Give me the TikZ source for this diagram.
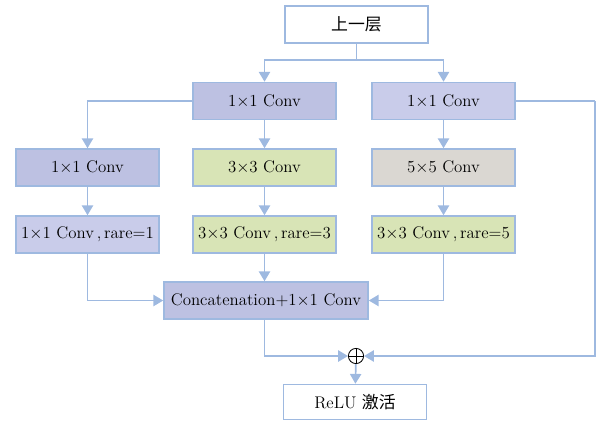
\documentclass[tikz,border=0pt]{standalone}
\usepackage{fontspec}
\newfontfamily\cjk{Noto Sans CJK SC}
\usepackage{tikz}
\usetikzlibrary{arrows.meta,positioning,calc}
\definecolor{lnblue}{RGB}{158,185,224}
\definecolor{boxlav}{RGB}{189,193,226}
\definecolor{boxlav2}{RGB}{201,204,234}
\definecolor{boxgreen}{RGB}{216,228,182}
\definecolor{boxgray}{RGB}{218,215,210}
\tikzstyle{arrow} = [line width=1.2pt,-{Triangle[width=8pt,length=7pt]},color=lnblue]
\tikzstyle{link} = [line width=1.2pt,color=lnblue]
\tikzstyle{layer} = [draw=lnblue, line width=1.1pt, minimum width=3.575cm, minimum height=0.925cm, inner sep=0pt, font=\fontsize{12}{14}\selectfont]

\begin{document}
\begin{tikzpicture}
\useasboundingbox (0,0) rectangle (15.05,-10.5);

\node[layer, fill=white] (prev) at (8.9125,-0.6125) {{\cjk 上一层}};
\node[layer, fill=boxlav] (conva) at (6.6125,-2.525) {1$\times$1 Conv};
\node[layer, fill=boxlav2] (convb) at (11.0875,-2.525) {1$\times$1 Conv};

\node[layer, fill=boxlav] (left1) at (2.1875,-4.1875) {1$\times$1 Conv};
\node[layer, fill=boxgreen] (mid1) at (6.6125,-4.1875) {3$\times$3 Conv};
\node[layer, fill=boxgray] (right1) at (11.0875,-4.1875) {5$\times$5 Conv};

\node[layer, fill=boxlav2] (left2) at (2.1875,-5.8625) {1$\times$1 Conv\,,\,rare=1};
\node[layer, fill=boxgreen] (mid2) at (6.6125,-5.8625) {3$\times$3 Conv\,,\,rare=3};
\node[layer, fill=boxgreen] (right2) at (11.0875,-5.8625) {3$\times$3 Conv\,,\,rare=5};

\node[layer, fill=boxlav, minimum width=5.1cm] (concat) at (6.65,-7.5125) {Concatenation+1$\times$1 Conv};
\node[circle, draw, line width=0.6pt, minimum size=0.38cm, inner sep=0pt] (plus) at (8.9,-8.9) {};
\draw[line width=0.6pt] (plus.north) -- (plus.south) (plus.west) -- (plus.east);
\node[layer, fill=white, minimum height=0.875cm] (relu) at (8.875,-10.05) {ReLU {\cjk 激活}};

\coordinate (split) at (8.9125,-1.5);
\coordinate (bypass) at (14.875,-2.525);

\draw[link] (prev) -- (split);
\draw[arrow] (split) -| (conva);
\draw[arrow] (split) -| (convb);
\draw[arrow] (conva.west) -| (left1);
\draw[arrow] (conva) -- (mid1);
\draw[arrow] (convb) -- (right1);
\draw[arrow] (left1) -- (left2);
\draw[arrow] (mid1) -- (mid2);
\draw[arrow] (right1) -- (right2);
\draw[arrow] (left2) |- (concat.west);
\draw[arrow] (mid2) -- (mid2 |- concat.north);
\draw[arrow] (right2) |- (concat.east);
\draw[arrow] (mid2 |- concat.south) |- (plus.west);
\draw[link] (convb.east) -- (bypass);
\draw[arrow] (bypass) |- (plus.east);
\draw[arrow] (plus) -- (relu);
\end{tikzpicture}
\end{document}
